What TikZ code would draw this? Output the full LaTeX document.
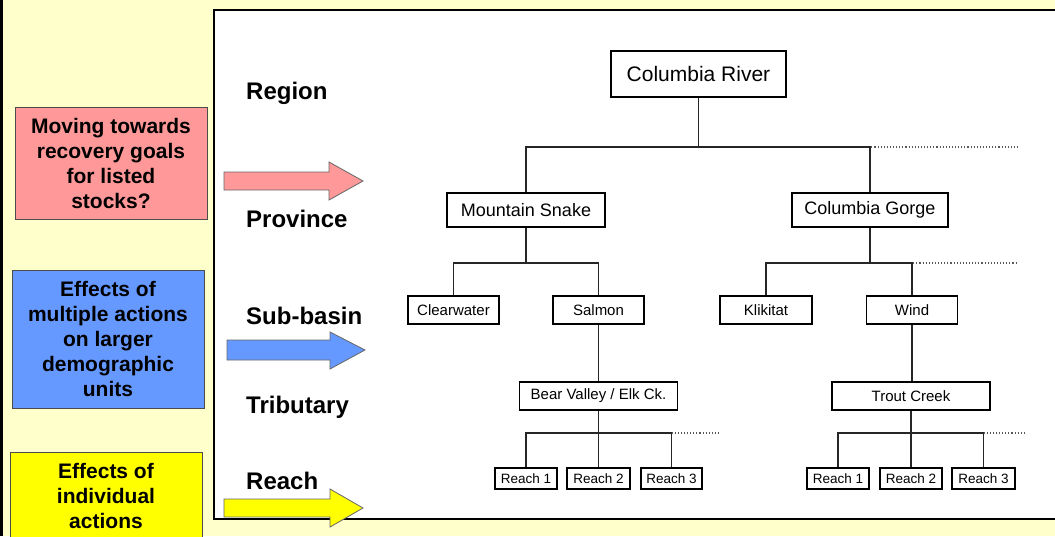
\documentclass[tikz,border=0pt]{standalone}
\usepackage{fontspec}
\setmainfont{Liberation Sans}
\definecolor{bg}{HTML}{FFFFCC}
\definecolor{pinkc}{HTML}{FF9999}
\definecolor{bluec}{HTML}{6699FF}
\definecolor{yelc}{HTML}{FFFF00}
\begin{document}
\begin{tikzpicture}[x=1pt,y=-1pt,
  tn/.style={draw=black, line width=1.1pt, fill=white, inner sep=0pt},
  lv/.style={anchor=base west, inner sep=0pt, font=\fontsize{24}{28}\selectfont\bfseries},
  conn/.style={line width=1.1pt, draw=black!85},
  dots/.style={line width=1.1pt, dotted, draw=black!65},
  lbox/.style={draw=black!70, line width=1pt, align=center, inner sep=0pt, font=\fontsize{21}{25}\selectfont\bfseries},
  ltext/.style={align=center, inner sep=0pt, font=\fontsize{21}{25}\selectfont\bfseries},
  barrow/.style={draw=black!60, line width=0.8pt},
  fA/.style={font=\fontsize{21}{24}\selectfont},
  fB/.style={font=\fontsize{18}{21}\selectfont},
  fC/.style={font=\fontsize{15}{18}\selectfont},
  fD/.style={font=\fontsize{13.5}{16}\selectfont}]
\useasboundingbox (0,0) rectangle (1055,536);
\clip (0,0) rectangle (1055,536);
\fill[bg] (0,0) rectangle (1055,536);
\fill[black] (0,0) rectangle (3,536);
\draw[fill=white, line width=1.5pt] (1062,10) -- (214,10) -- (214,519) -- (1062,519);

% left boxes
\node[lbox, fill=pinkc, minimum width=192, minimum height=112] (goal) at (111,163)
  {Moving towards\\recovery goals\\for listed\\stocks?};
\node[lbox, fill=bluec, minimum width=192, minimum height=138] (multi) at (108,339)
  {Effects of\\multiple actions\\on larger\\demographic\\units};
\draw[draw=black!70, line width=1pt, fill=yelc] (10,452) rectangle (202,560);
\node[ltext] (indiv) at (106,496) {Effects of\\individual\\actions};

% block arrows
\draw[barrow, fill=pinkc] (224,172) -- (329,172) -- (329,162) -- (363,181) -- (329,200) -- (329,190) -- (224,190) -- cycle;
\draw[barrow, fill=bluec] (227,340) -- (330,340) -- (330,332) -- (365,350) -- (330,369) -- (330,360) -- (227,360) -- cycle;
\draw[barrow, fill=yelc] (224,499) -- (330,499) -- (330,489) -- (363,508) -- (330,527) -- (330,517) -- (224,517) -- cycle;

% level labels
\node[lv] (lregion) at (246,99) {Region};
\node[lv] (lprov) at (246,227) {Province};
\node[lv] (lsub) at (246,324) {Sub-basin};
\node[lv] (ltrib) at (246,413) {Tributary};
\node[lv] (lreach) at (246,489) {Reach};

% tree nodes
\node[tn, fA, minimum width=175, minimum height=46] (cr) at (698.5,74) {Columbia River};
\node[tn, fB, minimum width=158, minimum height=34] (ms) at (526,210) {Mountain Snake};
\node[tn, fB, minimum width=156, minimum height=34] (cg) at (870,210) {Columbia Gorge};
\node[tn, fC, minimum width=91, minimum height=28] (cw) at (453.5,310) {Clearwater};
\node[tn, fC, minimum width=91, minimum height=28] (sa) at (598.5,310) {Salmon};
\node[tn, fC, minimum width=92, minimum height=28] (kl) at (766,310) {Klikitat};
\node[tn, fC, minimum width=91, minimum height=28] (wi) at (912,310) {Wind};
\node[tn, fC, minimum width=158, minimum height=28] (bv) at (598.5,396) {Bear Valley / Elk Ck.};
\node[tn, fC, minimum width=158, minimum height=28] (tc) at (911,396) {Trout Creek};
\node[tn, fD, minimum width=62, minimum height=21] (r1) at (526,478.5) {Reach 1};
\node[tn, fD, minimum width=63, minimum height=21] (r2) at (598.5,478.5) {Reach 2};
\node[tn, fD, minimum width=61, minimum height=21] (r3) at (671.5,478.5) {Reach 3};
\node[tn, fD, minimum width=62, minimum height=21] (s1) at (838,478.5) {Reach 1};
\node[tn, fD, minimum width=62, minimum height=21] (s2) at (911,478.5) {Reach 2};
\node[tn, fD, minimum width=63, minimum height=21] (s3) at (983.5,478.5) {Reach 3};

% dotted continuations
\coordinate (d1s) at (862,147);
\coordinate (d1) at (1018,147);
\coordinate (d2s) at (845,263);
\coordinate (d2) at (1018,263);
\coordinate (d3) at (720,433);
\coordinate (d4) at (1024,433);
\draw[dots] (d1s) -- (d1);
\draw[dots] (d2s) -- (d2);
\draw[dots] (r3.north |- d3) -- (d3);
\draw[dots] (s3.north |- d4) -- (d4);

% connectors
\draw[conn] (cr.south) -- (cr.south |- d1);
\draw[conn] (ms.north) |- (cg.north |- d1) -- (cg.north);
\draw[conn] (ms.south) -- (ms.south |- d2);
\draw[conn] (cw.north) |- (sa.north |- d2) -- (sa.north);
\draw[conn] (cg.south) -- (cg.south |- d2);
\draw[conn] (kl.north) |- (wi.north |- d2) -- (wi.north);
\draw[conn] (sa.south) -- (sa.south |- bv.north);
\draw[conn] (tc.north -| wi.south) -- (wi.south);
\draw[conn] (bv.south) -- (bv.south |- d3);
\draw[conn] (r1.north) |- (r3.north |- d3) -- (r3.north);
\draw[conn] (r2.north) -- (r2.north |- d3);
\draw[conn] (tc.south) -- (tc.south |- d4);
\draw[conn] (s1.north) |- (s3.north |- d4) -- (s3.north);
\draw[conn] (s2.north) -- (s2.north |- d4);
\end{tikzpicture}
\end{document}
